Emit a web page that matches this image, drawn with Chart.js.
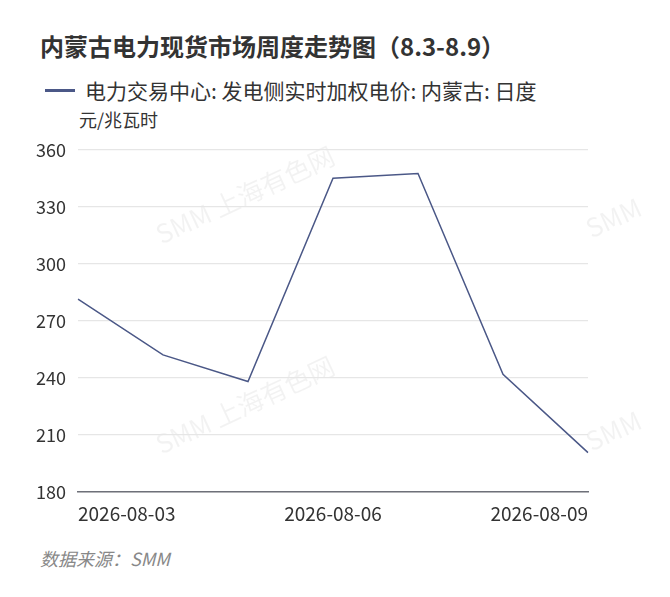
<!DOCTYPE html>
<html>
<head>
<meta charset="utf-8">
<script src="https://cdn.jsdelivr.net/npm/chart.js@4"></script>
<style>
  body { margin: 0; background: #fff; font-family: "Noto Sans CJK SC", "Noto Sans", sans-serif; }
  #wrap { position: relative; width: 670px; height: 597px; overflow: hidden; }
  .txt { position: absolute; white-space: nowrap; color: #333; line-height: 1; }
  #title { left: 40px; top: 34px; font-size: 24px; font-weight: bold; }
  #legend { left: 85px; top: 80px; font-size: 21px; color: #333; }
  #mark { position: absolute; left: 45px; top: 89px; width: 30px; height: 3px; background: #4b5887; }
  #unit { left: 79px; top: 110px; font-size: 18px; }
  #source { left: 40px; top: 549px; font-size: 18px; font-style: italic; color: #888; }
  #chartBox { position: absolute; left: 0; top: 127px; width: 670px; height: 405px; }
</style>
</head>
<body>
<div id="wrap">
  <div class="txt" id="title">内蒙古电力现货市场周度走势图（8.3-8.9）</div>
  <div id="mark"></div>
  <div class="txt" id="legend">电力交易中心: 发电侧实时加权电价: 内蒙古: 日度</div>
  <div class="txt" id="unit">元/兆瓦时</div>
  <div id="chartBox"><canvas id="priceChart"></canvas></div>
  <div class="txt" id="source">数据来源：SMM</div>
</div>
<script>
// 日期和电价数据
const dates = ['2026-08-03', '2026-08-04', '2026-08-05', '2026-08-06', '2026-08-07', '2026-08-08', '2026-08-09'];
const prices = [281.5, 252.1, 238.1, 345.1, 347.5, 241.9, 200.7];
const shownDates = ['2026-08-03', '2026-08-06', '2026-08-09'];
const yTicks = [180, 210, 240, 270, 300, 330, 360];

// 水印
const watermark = {
    id: 'watermark',
    beforeDraw(chart) {
        const ctx = chart.ctx;
        ctx.save();
        ctx.beginPath();
        ctx.rect(0, 0, 650, chart.height);
        ctx.clip();
        ctx.fillStyle = 'rgba(0,0,0,0.05)';
        ctx.font = '26px "Noto Sans CJK SC", sans-serif';
        ctx.textAlign = 'center';
        ctx.textBaseline = 'middle';
        const spots = [[245, 68], [245, 278], [675, 62], [675, 275]];
        spots.forEach(([x, y]) => {
            ctx.save();
            ctx.translate(x, y);
            ctx.rotate(-25 * Math.PI / 180);
            ctx.fillText('SMM 上海有色网', 0, 0);
            ctx.restore();
        });
        ctx.restore();
    }
};

new Chart(document.getElementById('priceChart'), {
    type: 'line',
    data: {
        labels: dates,
        datasets: [{
            label: '电力交易中心: 发电侧实时加权电价: 内蒙古: 日度',
            data: prices,
            borderColor: '#4b5887',
            borderWidth: 1.5,
            pointRadius: 0,
            tension: 0,
            fill: false
        }]
    },
    options: {
        responsive: true,
        maintainAspectRatio: false,
        animation: false,
        layout: { padding: { top: 0, right: 82, bottom: 0, left: 0 } },
        plugins: {
            legend: { display: false },
            tooltip: { enabled: false }
        },
        scales: {
            x: {
                afterFit(scale) { scale.height = 40; },
                grid: { display: false, drawTicks: false },
                border: { color: '#6e7079', width: 1.5 },
                ticks: {
                    autoSkip: false,
                    maxRotation: 0,
                    align: 'inner',
                    padding: 10,
                    color: '#333',
                    font: { size: 19, family: '"Noto Sans CJK SC", sans-serif' },
                    callback(value, index) {
                        const label = dates[index];
                        return shownDates.includes(label) ? label : '';
                    }
                }
            },
            y: {
                min: yTicks[0],
                max: yTicks[yTicks.length - 1],
                afterFit(scale) { scale.width = 78; },
                afterBuildTicks(scale) { scale.ticks = yTicks.map(v => ({ value: v })); },
                grid: { color: '#e6e6e6', lineWidth: 1.2, drawTicks: false },
                border: { display: false },
                ticks: {
                    padding: 12,
                    color: '#333',
                    font: { size: 18, family: '"Noto Sans CJK SC", sans-serif' }
                }
            }
        }
    },
    plugins: [watermark]
});
</script>
</body>
</html>
